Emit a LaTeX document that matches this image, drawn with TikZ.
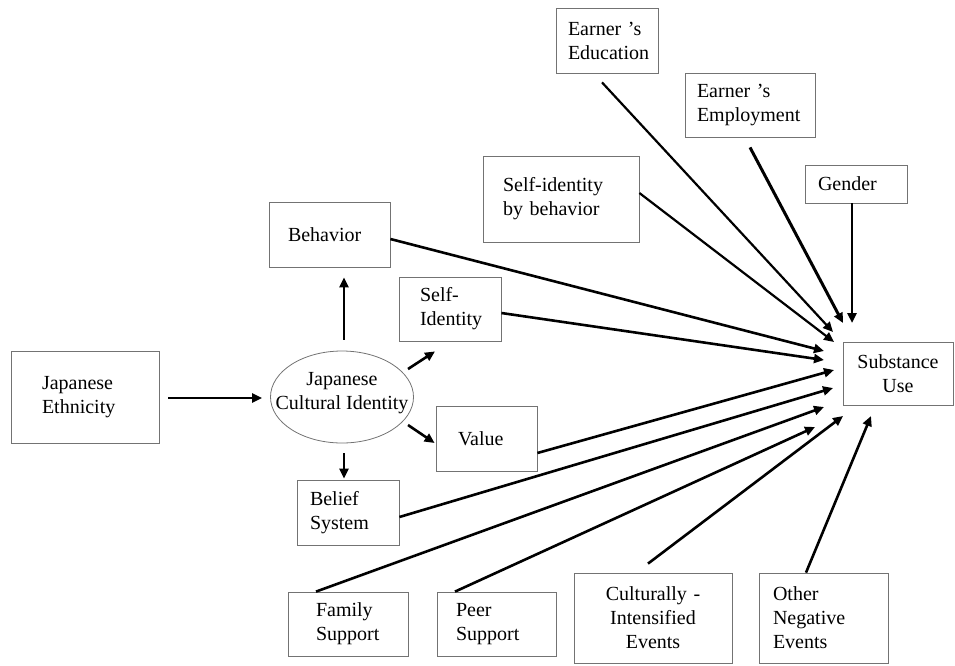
\documentclass[tikz,border=0pt]{standalone}
\usepackage{fontspec}
\setmainfont{Liberation Serif}
\usetikzlibrary{arrows.meta,calc,shapes.geometric}
\newcommand{\boxfont}{\fontsize{20}{24}\selectfont}
\tikzset{
  box/.style={draw=black!55, line width=0.8pt, rectangle, align=left, inner ysep=0pt, font=\boxfont},
  cbox/.style={box, align=center},
  arr/.style={line width=2.6pt, -{Triangle[length=10pt,width=9pt]}}
}
\begin{document}
\begin{tikzpicture}[x=1pt,y=-1pt]
			\useasboundingbox (0,0) rectangle (955,665);
			\node[box, text width=86pt, inner xsep=31pt, minimum height=92pt] (eth) at (85,397) {Japanese\\Ethnicity};
			\node[ellipse, draw=black!55, line width=0.8pt, minimum width=143pt, minimum height=92pt, inner sep=0pt,
				label={[font=\boxfont, align=center, yshift=4pt]center:Japanese\\Cultural Identity}] (jci) at (342,397) {};
			\node[box, text width=83pt, inner xsep=19pt, minimum height=65pt] (beh) at (329.5,234.5) {Behavior};
			\node[box, text width=60pt, inner xsep=21pt, minimum height=64pt] (sid) at (450,309) {Self-\\Identity};
			\node[box, text width=57pt, inner xsep=22pt, minimum height=65pt] (val) at (486.5,438.5) {Value};
			\node[box, text width=76pt, inner xsep=13pt, minimum height=65pt] (bel) at (348,512.5) {Belief\\System};
			\node[box, text width=116pt, inner xsep=20pt, minimum height=86pt] (sib) at (561,199) {Self-identity\\by behavior};
			\node[box, text width=78pt, inner xsep=12pt, minimum height=65pt] (edu) at (607,40.5) {Earner 's\\Education};
			\node[box, text width=106pt, inner xsep=12pt, minimum height=64pt] (emp) at (750,105) {Earner 's\\Employment};
			\node[box, text width=76pt, inner xsep=13pt, minimum height=38pt] (gen) at (856,184) {Gender};
			\node[cbox, text width=90pt, inner xsep=10pt, minimum height=63pt] (su) at (898,373.5) {Substance\\Use};
			\node[box, text width=64pt, inner xsep=28pt, minimum height=64pt] (fam) at (348,624) {Family\\Support};
			\node[box, text width=81pt, inner xsep=19pt, minimum height=64pt] (peer) at (496.5,624) {Peer\\Support};
			\node[cbox, text width=138pt, inner xsep=10pt, minimum height=90pt] (cul) at (653,618) {Culturally -\\Intensified\\Events};
			\node[box, text width=101pt, inner xsep=14pt, minimum height=90pt] (oth) at (823.5,618) {Other\\Negative\\Events};
			\draw[arr] ($(eth.east)+(9,1)$) -- ($(jci.west)+(-8,1)$);
			\draw[arr] ($(jci.north)+(2,-11)$) -- ($(jci.north |- beh.south)+(2,10)$);
			\draw[arr] ($(jci)+(66,-28)$) -- ($(sid.south)+(-15,10)$);
			\draw[arr] ($(jci)+(66,28)$) -- ($(val.west)+(-1,4.5)$);
			\draw[arr] ($(jci.south)+(2,10)$) -- ($(jci.south |- bel.north)+(2,-1)$);
			\draw[arr] ($(beh.east)+(0,4.5)$) -- ($(su)+(-74,-22.5)$);
			\draw[arr] ($(sid.east)+(0,4)$) -- ($(su)+(-74,-13.5)$);
			\draw[arr, line width=2.2pt] ($(sib.east)+(0,-6)$) -- ($(su)+(-64,-31.5)$);
			\draw[arr, line width=2.2pt] ($(edu.south)+(-5,9)$) -- ($(su)+(-65,-41.5)$);
			\draw[arr, line width=3pt] ($(emp.south)+(0,10)$) -- ($(su)+(-55,-50.5)$);
			\draw[arr] ($(gen.south)+(-4,0)$) -- ($(su)+(-46,-50.5)$);
			\draw[arr] ($(val.east)+(0,14.5)$) -- ($(su)+(-64,-3.5)$);
			\draw[arr] ($(bel.east)+(0,4.5)$) -- ($(su)+(-65,14.5)$);
			\draw[arr] ($(fam.north)+(-32,0)$) -- ($(su)+(-74,33.5)$);
			\draw[arr] ($(peer.north)+(-41.5,0)$) -- ($(su)+(-83,53.5)$);
			\draw[arr] ($(cul.north)+(-5,-9)$) -- ($(su)+(-55,42.5)$);
			\draw[arr] ($(oth.north)+(-17.5,0)$) -- ($(su)+(-27,42.5)$);
		\end{tikzpicture}
\end{document}
